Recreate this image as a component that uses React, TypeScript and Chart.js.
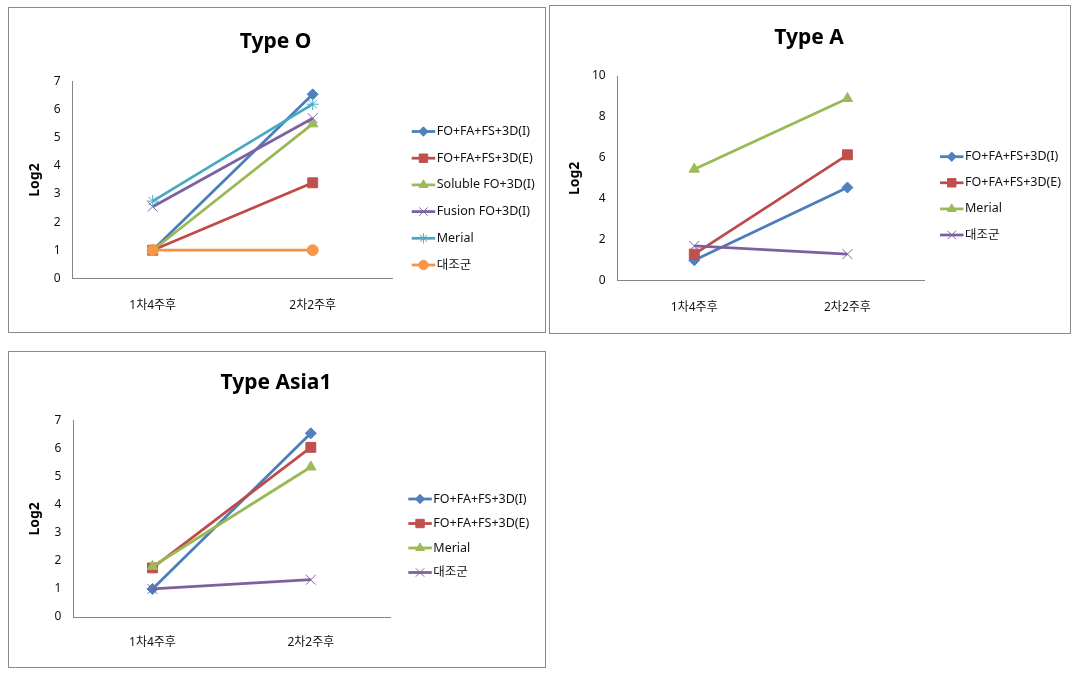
import React, { useEffect, useRef } from "react";
import { Chart, registerables } from "chart.js";
import { drawPoint } from "chart.js/helpers";

Chart.register(...registerables);

// ---------- data ----------
const categories = ["1차4주후", "2차2주후"];
const yAxisTitle = "Log2";

const typeOTitle = "Type O";
const typeOSeries = ["FO+FA+FS+3D(I)", "FO+FA+FS+3D(E)", "Soluble FO+3D(I)", "Fusion FO+3D(I)", "Merial", "대조군"];
const typeOFoI = [1, 6.55];
const typeOFoE = [1, 3.4];
const typeOSoluble = [1, 5.5];
const typeOFusion = [2.55, 5.7];
const typeOMerial = [2.75, 6.2];
const typeOControl = [1, 1];
const typeOYMax = 7;
const typeOYStep = 1;

const typeATitle = "Type A";
const typeASeries = ["FO+FA+FS+3D(I)", "FO+FA+FS+3D(E)", "Merial", "대조군"];
const typeAFoI = [1, 4.55];
const typeAFoE = [1.3, 6.15];
const typeAMerial = [5.45, 8.9];
const typeAControl = [1.7, 1.3];
const typeAYMax = 10;
const typeAYStep = 2;

const asia1Title = "Type Asia1";
const asia1Series = ["FO+FA+FS+3D(I)", "FO+FA+FS+3D(E)", "Merial", "대조군"];
const asia1FoI = [1, 6.55];
const asia1FoE = [1.75, 6.05];
const asia1Merial = [1.8, 5.35];
const asia1Control = [1, 1.33];
const asia1YMax = 7;
const asia1YStep = 1;

// ---------- styles ----------
const STYLE = {
  blue: { line: "#4A7EBB", fill: "#4F81BD", point: "rectRot", r: 5.5, bw: 1 },
  red: { line: "#BE4B48", fill: "#C0504D", point: "rect", r: 7, bw: 1 },
  green: { line: "#98B954", fill: "#9BBB59", point: "triangle", r: 6, bw: 1 },
  purple: { line: "#7D60A0", fill: "#8064A2", point: "crossRot", r: 7, bw: 1 },
  cyan: { line: "#46AAC5", fill: "#4BACC6", point: "star", r: 6, bw: 1 },
  orange: { line: "#F69240", fill: "#F79646", point: "circle", r: 5.5, bw: 1 },
};

const FONT = "'Noto Sans', 'Noto Sans CJK KR', sans-serif";

const decorPlugin = {
  id: "panelDecor",
  afterDraw(chart: any, _args: any, opts: any) {
    const ctx = chart.ctx;
    ctx.save();
    ctx.fillStyle = "#000";
    ctx.font = `bold 21px ${FONT}`;
    ctx.textAlign = "center";
    ctx.textBaseline = "middle";
    ctx.fillText(opts.title, opts.titleX, opts.titleY);
    chart.data.datasets.forEach((ds: any, i: number) => {
      const y = opts.legendY + i * opts.legendDy;
      const x = opts.legendX;
      const len = 23.5;
      ctx.strokeStyle = ds.borderColor;
      ctx.lineWidth = ds.borderWidth;
      ctx.beginPath();
      ctx.moveTo(x, y);
      ctx.lineTo(x + len, y);
      ctx.stroke();
      ctx.fillStyle = ds.pointBackgroundColor;
      ctx.strokeStyle = ds.pointBorderColor;
      ctx.lineWidth = ds.pointBorderWidth;
      drawPoint(ctx, { pointStyle: ds.pointStyle, radius: ds.pointRadius * 0.85, borderWidth: ds.pointBorderWidth, rotation: 0 } as any, x + len / 2, y);
      ctx.fillStyle = "#111";
      ctx.font = `12.5px ${FONT}`;
      ctx.textAlign = "left";
      ctx.textBaseline = "middle";
      ctx.fillText(ds.label, x + len + 1.5, y);
    });
    ctx.restore();
  },
};

type PanelProps = {
  box: { x: number; y: number; w: number; h: number };
  area: { l: number; t: number; r: number; b: number };
  title: string;
  titlePos: { x: number; y: number };
  yTitleX: number;
  xLabelPad: number;
  yMax: number;
  yStep: number;
  series: { label: string; data: number[]; style: any }[];
  legend: { x: number; y: number; dy: number };
};

function Panel(p: PanelProps) {
  const ref = useRef<HTMLCanvasElement>(null);
  useEffect(() => {
    if (!ref.current) return;
    const n = p.series.length;
    const chart = new Chart(ref.current, {
      type: "line",
      data: {
        labels: categories,
        datasets: p.series.map((s, i) => ({
          label: s.label,
          data: s.data,
          borderColor: s.style.line,
          backgroundColor: s.style.fill,
          borderWidth: 2.75,
          pointStyle: s.style.point,
          pointRadius: s.style.r,
          pointBackgroundColor: s.style.fill,
          pointBorderColor: s.style.fill,
          pointBorderWidth: s.style.bw,
          tension: 0,
          fill: false,
          order: n - i,
        })),
      },
      options: {
        animation: false,
        responsive: false,
        layout: { padding: { left: 0, top: p.area.t, right: p.box.w - p.area.r, bottom: 0 } },
        plugins: {
          legend: { display: false },
          title: { display: false },
          tooltip: { enabled: false },
          panelDecor: {
            title: p.title,
            titleX: p.titlePos.x,
            titleY: p.titlePos.y,
            legendX: p.legend.x,
            legendY: p.legend.y,
            legendDy: p.legend.dy,
          },
        } as any,
        scales: {
          x: {
            offset: true,
            grid: { display: false, drawTicks: false },
            border: { display: true, color: "#868686", width: 1 },
            ticks: { padding: p.xLabelPad, color: "#111", font: { family: FONT, size: 12 } },
            afterFit: (s: any) => {
              s.height = p.box.h - p.area.b;
            },
          },
          y: {
            min: 0,
            max: p.yMax,
            grid: { display: false, drawTicks: false },
            border: { display: true, color: "#868686", width: 1 },
            ticks: { stepSize: p.yStep, padding: 12, color: "#111", font: { family: FONT, size: 12 } },
            title: {
              display: true,
              text: yAxisTitle,
              color: "#000",
              font: { family: FONT, size: 14, weight: "bold" },
              padding: { top: p.yTitleX - 8.4, bottom: 0 },
            },
            afterFit: (s: any) => {
              s.width = p.area.l;
            },
          },
        },
      },
      plugins: [decorPlugin],
    } as any);
    return () => chart.destroy();
  }, []);
  return (
    <>
      <canvas
        ref={ref}
        width={p.box.w}
        height={p.box.h}
        style={{ position: "absolute", left: p.box.x, top: p.box.y, width: p.box.w, height: p.box.h }}
      />
      <div
        style={{
          position: "absolute",
          left: p.box.x,
          top: p.box.y,
          width: p.box.w,
          height: p.box.h,
          border: "1px solid #8a8a8a",
          boxSizing: "border-box",
          pointerEvents: "none",
        }}
      />
    </>
  );
}

export default function App() {
  const S = STYLE;
  return (
    <div style={{ position: "absolute", left: 0, top: 0, width: 1078, height: 676, background: "#fff" }}>
      <Panel
        box={{ x: 8, y: 7, w: 538, h: 326 }}
        area={{ l: 64.7, t: 74.7, r: 384.7, b: 271.3 }}
        title={typeOTitle}
        titlePos={{ x: 267.5, y: 35 }}
        yTitleX={27}
        xLabelPad={20}
        yMax={typeOYMax}
        yStep={typeOYStep}
        series={[
          { label: typeOSeries[0], data: typeOFoI, style: S.blue },
          { label: typeOSeries[1], data: typeOFoE, style: S.red },
          { label: typeOSeries[2], data: typeOSoluble, style: S.green },
          { label: typeOSeries[3], data: typeOFusion, style: S.purple },
          { label: typeOSeries[4], data: typeOMerial, style: S.cyan },
          { label: typeOSeries[5], data: typeOControl, style: S.orange },
        ]}
        legend={{ x: 403.7, y: 124.5, dy: 26.7 }}
      />
      <Panel
        box={{ x: 549, y: 5, w: 522, h: 329 }}
        area={{ l: 68.7, t: 71, r: 375, b: 275.7 }}
        title={typeATitle}
        titlePos={{ x: 260, y: 33 }}
        yTitleX={26}
        xLabelPad={19.5}
        yMax={typeAYMax}
        yStep={typeAYStep}
        series={[
          { label: typeASeries[0], data: typeAFoI, style: S.blue },
          { label: typeASeries[1], data: typeAFoE, style: S.red },
          { label: typeASeries[2], data: typeAMerial, style: S.green },
          { label: typeASeries[3], data: typeAControl, style: S.purple },
        ]}
        legend={{ x: 391, y: 151.7, dy: 26.1 }}
      />
      <Panel
        box={{ x: 8, y: 351, w: 538, h: 317 }}
        area={{ l: 65.3, t: 69.7, r: 382, b: 266 }}
        title={asia1Title}
        titlePos={{ x: 268, y: 32.5 }}
        yTitleX={27}
        xLabelPad={18.5}
        yMax={asia1YMax}
        yStep={asia1YStep}
        series={[
          { label: asia1Series[0], data: asia1FoI, style: S.blue },
          { label: asia1Series[1], data: asia1FoE, style: S.red },
          { label: asia1Series[2], data: asia1Merial, style: S.green },
          { label: asia1Series[3], data: asia1Control, style: S.purple },
        ]}
        legend={{ x: 400.3, y: 148, dy: 24.5 }}
      />
    </div>
  );
}
